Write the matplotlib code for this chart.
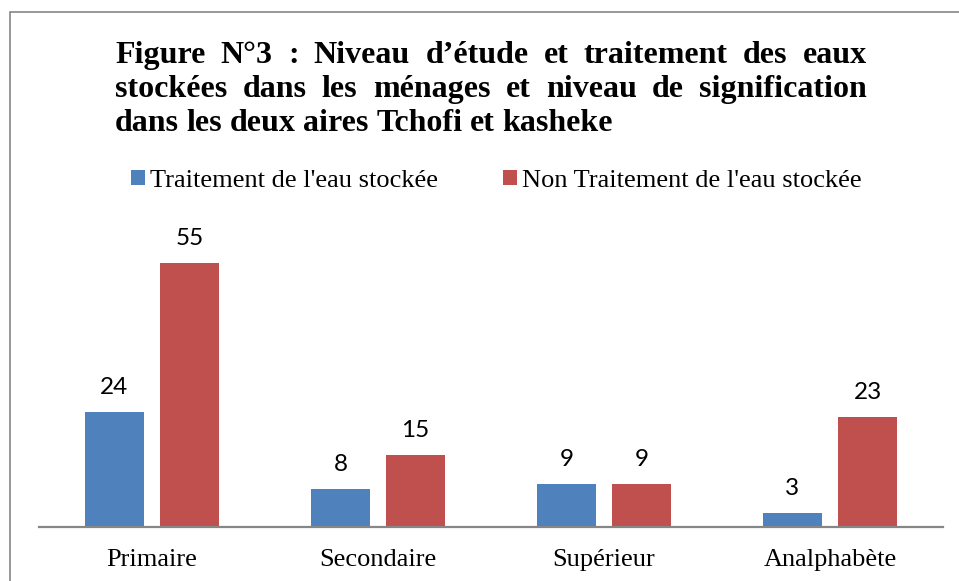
import numpy as np
import matplotlib
matplotlib.use("Agg")
import matplotlib.pyplot as plt
from matplotlib.patches import Patch, Rectangle

# Data
categories = ["Primaire", "Secondaire", "Supérieur", "Analphabète"]
traitement = [24, 8, 9, 3]
non_traitement = [55, 15, 9, 23]
series_names = ["Traitement de l'eau stockée", "Non Traitement de l'eau stockée"]

title_lines = [
    "Figure N°3 : Niveau d’étude et traitement des eaux",
    "stockées dans les ménages et niveau de signification",
    "dans les deux aires Tchofi et kasheke",
]

BLUE = "#4F81BD"
RED = "#C0504D"
GRID_GRAY = "#868686"
W, H = 959, 581

fig = plt.figure(figsize=(W / 100, H / 100), dpi=100)

# plot area in pixels: x 39..943, baseline at y=527
ax = fig.add_axes([39 / W, (H - 527) / H, 904 / W, 288 / H])
x = np.arange(len(categories))
bw = 0.265
off = 0.166
b1 = ax.bar(x - off, traitement, bw, color=BLUE)
b2 = ax.bar(x + off, non_traitement, bw, color=RED)

ax.set_xlim(-0.5, len(categories) - 0.5)
ax.set_ylim(0, 60)
ax.set_yticks([])
ax.set_xticks(x)
ax.set_xticklabels(categories, fontfamily="Liberation Serif", fontsize=19)
ax.tick_params(axis="x", length=0, pad=16)
for s in ["top", "left", "right"]:
    ax.spines[s].set_visible(False)
ax.spines["bottom"].set_color(GRID_GRAY)
ax.spines["bottom"].set_linewidth(1.6)

for bars in (b1, b2):
    ax.bar_label(bars, padding=10, fontfamily="Lato", fontsize=17.5)

# legend with square swatches
handles = [Patch(facecolor=BLUE), Patch(facecolor=RED)]
fig.legend(handles, series_names, loc="center", bbox_to_anchor=(496 / W, 1 - 181 / H),
           ncol=2, frameon=False, prop={"family": "Liberation Serif", "size": 19},
           handlelength=0.53, handleheight=0.53, handletextpad=0.19, columnspacing=2.45,
           borderpad=0, borderaxespad=0)

# outer chart frame
fig.patches.append(Rectangle((10 / W, -0.1), 1.2, 1 - 12.5 / H + 0.1, transform=fig.transFigure,
                             fill=False, edgecolor=GRID_GRAY, linewidth=1.2))

# justified bold title (last line ends at 613 px)
renderer = fig.canvas.get_renderer()
left = 115
line_ends = [867, 867, 613]
baselines = [63, 97, 131]
tkw = dict(fontfamily="Liberation Serif", fontweight="bold", fontsize=23, va="baseline", ha="left")
for line, yb, right in zip(title_lines, baselines, line_ends):
    words = line.split(" ")
    texts = [fig.text(0, 1 - yb / H, w, **tkw) for w in words]
    widths = [t.get_window_extent(renderer).width for t in texts]
    gap = (right - left - sum(widths)) / (len(words) - 1)
    xpos = left
    for t, w in zip(texts, widths):
        t.set_x(xpos / W)
        xpos += w + gap

fig.savefig("out.png", dpi=100)
